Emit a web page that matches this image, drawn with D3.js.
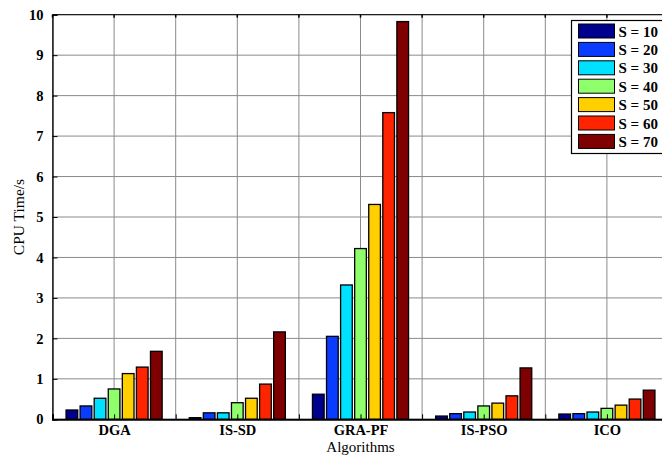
<!DOCTYPE html>
<html>
<head>
<meta charset="utf-8">
<script src="https://cdn.jsdelivr.net/npm/d3@7"></script>
<style>
  body { margin: 0; background: #fff; }
  svg { display: block; }
</style>
</head>
<body>
<div id="chart"></div>
<script>
// data
let algorithms = ["DGA", "IS-SD", "GRA-PF", "IS-PSO", "ICO"];
let seriesNames = ["S = 10", "S = 20", "S = 30", "S = 40", "S = 50", "S = 60", "S = 70"];
let seriesColors = ["#00008f", "#0a3cff", "#00e0ff", "#90ff6c", "#ffcf00", "#ff2400", "#7f0000"];
let s10 = [0.23, 0.04, 0.62, 0.08, 0.13];
let s20 = [0.33, 0.16, 2.05, 0.14, 0.14];
let s30 = [0.52, 0.16, 3.32, 0.18, 0.18];
let s40 = [0.75, 0.41, 4.22, 0.33, 0.27];
let s50 = [1.13, 0.52, 5.31, 0.40, 0.35];
let s60 = [1.29, 0.87, 7.58, 0.58, 0.50];
let s70 = [1.68, 2.16, 9.83, 1.27, 0.72];
let yTicks = [0, 1, 2, 3, 4, 5, 6, 7, 8, 9, 10];

let allSeries = [s10, s20, s30, s40, s50, s60, s70];

let W = 662, H = 457;
let margin = {top: 14.7, right: -6.5, bottom: 37.7, left: 52.5};
let width = W - margin.left - margin.right;
let height = H - margin.top - margin.bottom;

let svg = d3.select("#chart")
  .append("svg")
    .attr("width", W)
    .attr("height", H);

let g = svg.append("g")
    .attr("transform", "translate(" + margin.left + "," + margin.top + ")");

let x = d3.scaleLinear()
    .domain([0.5, algorithms.length + 0.5])
    .range([0, width]);

let y = d3.scaleLinear()
    .domain([0, 10])
    .range([height, 0]);

// position of each bar inside a group (in category units)
let inner = d3.scaleBand()
    .domain(seriesNames)
    .range([-0.39, 0.39])
    .paddingInner(0.17);

let serif = "'Liberation Serif', 'Times New Roman', serif";

// grid
let xGrid = d3.range(0.5, algorithms.length + 0.51, 0.5);
g.append("g")
  .selectAll("line")
  .data(xGrid)
  .enter().append("line")
    .attr("x1", d => x(d)).attr("x2", d => x(d))
    .attr("y1", 0).attr("y2", height)
    .attr("stroke", "#8a8a8a")
    .attr("stroke-width", 1);

g.append("g")
  .selectAll("line")
  .data(yTicks)
  .enter().append("line")
    .attr("x1", 0).attr("x2", width)
    .attr("y1", d => y(d)).attr("y2", d => y(d))
    .attr("stroke", "#8a8a8a")
    .attr("stroke-width", 1);

// bars
allSeries.forEach(function(vals, si) {
  g.append("g")
    .selectAll("rect")
    .data(vals)
    .enter().append("rect")
      .attr("x", (d, i) => x(i + 1 + inner(seriesNames[si])))
      .attr("width", x(inner.bandwidth()) - x(0))
      .attr("y", d => y(d))
      .attr("height", d => y(0) - y(d))
      .attr("fill", seriesColors[si])
      .attr("stroke", "#000")
      .attr("stroke-width", 1.3);
});

// axes
let yAxis = g.append("g")
    .call(d3.axisLeft(y).tickValues(yTicks).tickSize(-5).tickPadding(9).tickFormat(d3.format("d")));
yAxis.select(".domain").attr("stroke", "#000").attr("stroke-width", 1.3);
yAxis.selectAll(".tick line").attr("stroke", "#000");
yAxis.selectAll("text")
    .attr("font-family", serif)
    .attr("font-size", 14.5)
    .attr("font-weight", "bold")
    .attr("fill", "#000");

let xAxis = g.append("g")
    .attr("transform", "translate(0," + height + ")")
    .call(d3.axisBottom(x).tickValues(xGrid).tickSize(-5).tickPadding(5.5)
      .tickFormat(d => Number.isInteger(d) ? algorithms[d - 1] : ""));
xAxis.select(".domain").attr("stroke", "#000").attr("stroke-width", 2);
xAxis.selectAll(".tick line").attr("stroke", "#000");
xAxis.selectAll("text")
    .attr("font-family", serif)
    .attr("font-size", 14.5)
    .attr("font-weight", "bold")
    .attr("fill", "#000");

// top border with small ticks
g.append("line")
    .attr("x1", 0).attr("x2", width)
    .attr("y1", 0).attr("y2", 0)
    .attr("stroke", "#000").attr("stroke-width", 1);
g.append("g")
  .selectAll("line")
  .data(xGrid)
  .enter().append("line")
    .attr("x1", d => x(d)).attr("x2", d => x(d))
    .attr("y1", 0).attr("y2", 3)
    .attr("stroke", "#000").attr("stroke-width", 1.5);

// axis titles
svg.append("text")
    .attr("x", margin.left + x(3))
    .attr("y", 452)
    .attr("text-anchor", "middle")
    .attr("font-family", serif)
    .attr("font-size", 15)
    .text("Algorithms");

svg.append("text")
    .attr("transform", "translate(24," + (margin.top + height / 2) + ") rotate(-90)")
    .attr("text-anchor", "middle")
    .attr("font-family", serif)
    .attr("font-size", 15.5)
    .text("CPU Time/s");

// legend
let legend = svg.append("g")
    .attr("transform", "translate(571.5,20.5)");
legend.append("rect")
    .attr("width", 100)
    .attr("height", 133)
    .attr("fill", "#fff")
    .attr("stroke", "#000")
    .attr("stroke-width", 1.2);

let item = legend.selectAll(".item")
  .data(seriesNames)
  .enter().append("g")
    .attr("class", "item")
    .attr("transform", (d, i) => "translate(7," + (3.5 + i * 18.4) + ")");
item.append("rect")
    .attr("width", 36)
    .attr("height", 14)
    .attr("fill", (d, i) => seriesColors[i])
    .attr("stroke", "#000")
    .attr("stroke-width", 1);
item.append("text")
    .attr("x", 40)
    .attr("y", 12.5)
    .attr("font-family", serif)
    .attr("font-size", 15)
    .attr("font-weight", "bold")
    .text(d => d);
</script>
</body>
</html>
